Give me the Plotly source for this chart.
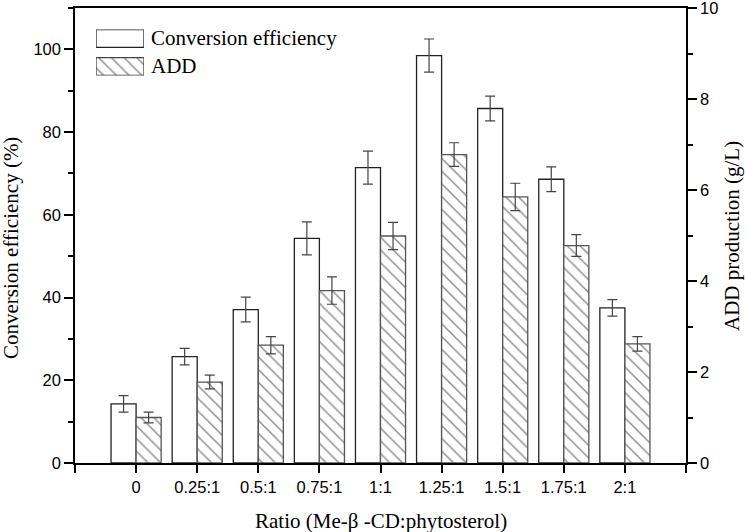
import plotly.graph_objects as go

categories = ["0", "0.25:1", "0.5:1", "0.75:1", "1:1", "1.25:1", "1.5:1", "1.75:1", "2:1"]
conversion = [14.3, 25.7, 37.1, 54.3, 71.4, 98.5, 85.7, 68.6, 37.5]
conversion_err = [2.0, 2.0, 3.0, 4.0, 4.0, 4.0, 3.0, 3.0, 2.0]
add_prod = [1.0, 1.78, 2.59, 3.79, 4.99, 6.78, 5.85, 4.78, 2.62]
add_err = [0.12, 0.15, 0.19, 0.3, 0.3, 0.26, 0.3, 0.24, 0.16]
left_ticks = [0, 20, 40, 60, 80, 100]
right_ticks = [0, 2, 4, 6, 8, 10]
legend_names = ["Conversion efficiency", "ADD"]

W, H = 745, 532
L, R, T, B = 75, 686, 8, 463

def px_x(p):
    return (p - L) / (R - L)

def px_y(p):
    return (B - p) / (B - T)

idx = list(range(len(categories)))
BW = 0.41
serif = "Liberation Serif, Times New Roman, serif"
sans = "Liberation Sans, Arial, sans-serif"
hatch = dict(shape="\\", fgcolor="#1a1a1a", bgcolor="white", size=9, solidity=0.16)

fig = go.Figure()
fig.add_trace(go.Bar(
    x=idx, y=conversion, offset=-BW, width=BW, name=legend_names[0],
    marker=dict(color="white", line=dict(color="#222222", width=1.3)),
    error_y=dict(type="data", array=conversion_err, color="#444444", thickness=1.2, width=5),
    xaxis="x", yaxis="y", showlegend=False,
))
fig.add_trace(go.Bar(
    x=idx, y=add_prod, offset=0, width=BW, name=legend_names[1],
    marker=dict(color="white", pattern=hatch, line=dict(color="#555555", width=1.3)),
    error_y=dict(type="data", array=add_err, color="#444444", thickness=1.2, width=5),
    xaxis="x", yaxis="y2", showlegend=False,
))

# legend swatches on a small hidden axis pair
fig.add_trace(go.Bar(
    y=[1], x=[1], orientation="h", width=0.64,
    marker=dict(color="white", line=dict(color="#222222", width=1.3)),
    xaxis="x3", yaxis="y3", showlegend=False, hoverinfo="skip",
))
fig.add_trace(go.Bar(
    y=[0], x=[1], orientation="h", width=0.64,
    marker=dict(color="white", pattern=hatch, line=dict(color="#444444", width=1.3)),
    xaxis="x3", yaxis="y3", showlegend=False, hoverinfo="skip",
))

tickvals = [-1] + idx + [len(categories)]
ticktext = [""] + categories + [""]

fig.update_layout(
    width=W, height=H,
    margin=dict(l=L, r=W - R, t=T, b=H - B, autoexpand=False),
    paper_bgcolor="white", plot_bgcolor="white",
    barmode="overlay",
    showlegend=False,
    xaxis=dict(
        range=[-1, len(categories)], tickvals=tickvals, ticktext=ticktext,
        showgrid=False, zeroline=False, showline=True, linecolor="black", linewidth=1.5,
        mirror=True, ticks="outside", ticklen=8, tickwidth=1.5, tickcolor="black",
        tickfont=dict(family=sans, size=16.5, color="black"), automargin=False,
    ),
    yaxis=dict(
        range=[0, 110], tickvals=left_ticks,
        showgrid=False, zeroline=False, showline=True, linecolor="black", linewidth=1.5,
        ticks="outside", ticklen=9, tickwidth=1.5, tickcolor="black",
        minor=dict(ticks="outside", dtick=10, ticklen=5, tickwidth=1.5, tickcolor="black"),
        tickfont=dict(family=sans, size=16.5, color="black"), automargin=False,
    ),
    yaxis2=dict(
        range=[0, 10.002], tickvals=right_ticks, overlaying="y", side="right", anchor="x",
        showgrid=False, zeroline=False, showline=True, linecolor="black", linewidth=1.5,
        ticks="outside", ticklen=9, tickwidth=1.5, tickcolor="black",
        minor=dict(ticks="outside", dtick=1, ticklen=5, tickwidth=1.5, tickcolor="black"),
        tickfont=dict(family=sans, size=16.5, color="black"), automargin=False,
        ticklabeloverflow="allow",
    ),
    xaxis3=dict(domain=[px_x(96), px_x(144)], range=[0, 1], visible=False, anchor="y3", fixedrange=True),
    yaxis3=dict(domain=[px_y(75.5), px_y(29.5)], range=[-0.32, 1.32], visible=False, anchor="x3", fixedrange=True),
)

annos = [
    dict(text=legend_names[0], x=px_x(149), y=px_y(38.5), xanchor="left", yanchor="middle"),
    dict(text=legend_names[1], x=px_x(149), y=px_y(66), xanchor="left", yanchor="middle"),
    dict(text="Conversion efficiency (%)", x=px_x(11), y=px_y(248), xanchor="center", yanchor="middle", textangle=-90),
    dict(text="ADD production (g/L)", x=px_x(732), y=px_y(236), xanchor="center", yanchor="middle", textangle=-90),
    dict(text="Ratio (Me-β -CD:phytosterol)", x=px_x(380.5), y=px_y(521), xanchor="center", yanchor="middle"),
]
for a in annos:
    fig.add_annotation(xref="paper", yref="paper", showarrow=False,
                       font=dict(family=serif, size=21, color="black"), **a)

fig.write_html("out.html", config={"displayModeBar": False},
               post_script="document.body.style.margin='0';document.body.style.overflow='hidden';")
